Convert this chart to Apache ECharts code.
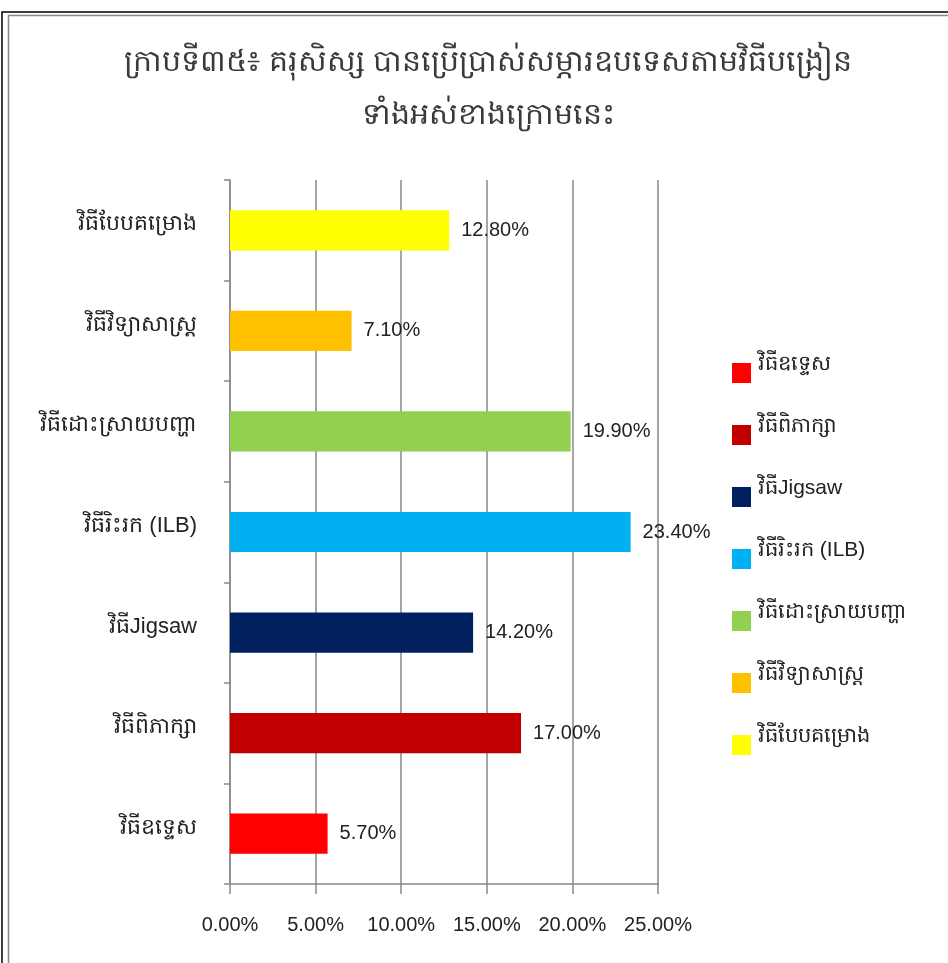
<!DOCTYPE html>
<html>
<head>
<meta charset="utf-8">
<script src="https://cdn.jsdelivr.net/npm/echarts@6/dist/echarts.min.js"></script>
<style>
  html, body { margin: 0; padding: 0; background: #fff; }
  #chart { width: 948px; height: 963px; }
</style>
</head>
<body>
<div id="chart"></div>
<script>
// Teaching methods, listed bottom to top on the category axis
const categories = [
  'វិធីឧទ្ទេស',
  'វិធីពិភាក្សា',
  'វិធីJigsaw',
  'វិធីរិះរក (ILB)',
  'វិធីដោះស្រាយបញ្ហា',
  'វិធីវិទ្យាសាស្ត្រ',
  'វិធីបែបគម្រោង'
];
// Share of student teachers using each method (%)
const values = [5.7, 17.0, 14.2, 23.4, 19.9, 7.1, 12.8];
const colors = ['#FF0000', '#C00000', '#002060', '#00B0F0', '#92D050', '#FFC000', '#FFFF00'];
const xTicks = [0, 5, 10, 15, 20, 25];

const titleLines = [
  'ក្រាបទី៣៥៖ គរុសិស្ស បានប្រើប្រាស់សម្ភារឧបទេសតាមវិធីបង្រៀន',
  'ទាំងអស់ខាងក្រោមនេះ'
];

const FONT = '"Liberation Sans", "DejaVu Sans", "Noto Sans", sans-serif';

// Legend swatch sits low in its slot so the label reads slightly above it
const SWATCH = 'path://M0,0 M0,18 L19,18 L19,38 L0,38 Z';

// One series per method so each gets its own legend entry; stacking keeps bars centred
const series = categories.map((name, i) => ({
  name: name,
  type: 'bar',
  stack: 'methods',
  barWidth: '40%',
  itemStyle: { color: colors[i] },
  label: {
    show: true,
    position: 'right',
    distance: 12,
    color: '#222',
    fontSize: 20,
    fontFamily: FONT,
    formatter: p => Number(p.value).toFixed(2) + '%'
  },
  data: categories.map((c, j) => (j === i ? values[i] : '-'))
}));

const chart = echarts.init(document.getElementById('chart'), null, { renderer: 'canvas' });
chart.setOption({
  backgroundColor: '#fff',
  animation: false,
  title: {
    text: titleLines.join('\n'),
    left: 483,
    textAlign: 'center',
    top: 31,
    textStyle: {
      fontSize: 30,
      fontWeight: 'normal',
      color: '#3a3a3a',
      lineHeight: 53,
      fontFamily: FONT
    }
  },
  legend: {
    orient: 'vertical',
    left: 727,
    top: 340,
    itemWidth: 19,
    itemHeight: 38,
    itemGap: 24,
    icon: SWATCH,
    textStyle: {
      fontSize: 21,
      color: '#222',
      fontFamily: FONT,
      padding: [0, 0, 0, 2]
    },
    data: categories.slice()
  },
  grid: { left: 230, right: 290, top: 180, bottom: 79, containLabel: false },
  xAxis: {
    type: 'value',
    min: xTicks[0],
    max: xTicks[xTicks.length - 1],
    interval: 5,
    axisLine: { show: true, lineStyle: { color: '#888', width: 1.5 } },
    axisTick: { show: true, length: 10, lineStyle: { color: '#888', width: 1.5 } },
    splitLine: { show: true, lineStyle: { color: '#888', width: 1.5 } },
    axisLabel: {
      margin: 31,
      fontSize: 20,
      color: '#222',
      fontFamily: FONT,
      formatter: v => v.toFixed(2) + '%'
    }
  },
  yAxis: {
    type: 'category',
    data: categories,
    boundaryGap: true,
    axisLine: { show: true, lineStyle: { color: '#888', width: 1.5 } },
    axisTick: { show: true, length: 6, lineStyle: { color: '#888', width: 1.5 } },
    axisLabel: {
      margin: 33,
      fontSize: 22,
      color: '#222',
      fontFamily: FONT,
      verticalAlign: 'bottom',
      lineHeight: 12
    }
  },
  graphic: [
    {
      type: 'rect',
      shape: { x: 2, y: 12, width: 960, height: 970 },
      style: { fill: 'none', stroke: '#000', lineWidth: 1.5 },
      silent: true
    },
    {
      type: 'rect',
      shape: { x: 8.5, y: 15.5, width: 960, height: 970 },
      style: { fill: 'none', stroke: '#888', lineWidth: 1.5 },
      silent: true
    }
  ],
  series: series
});
</script>
</body>
</html>
